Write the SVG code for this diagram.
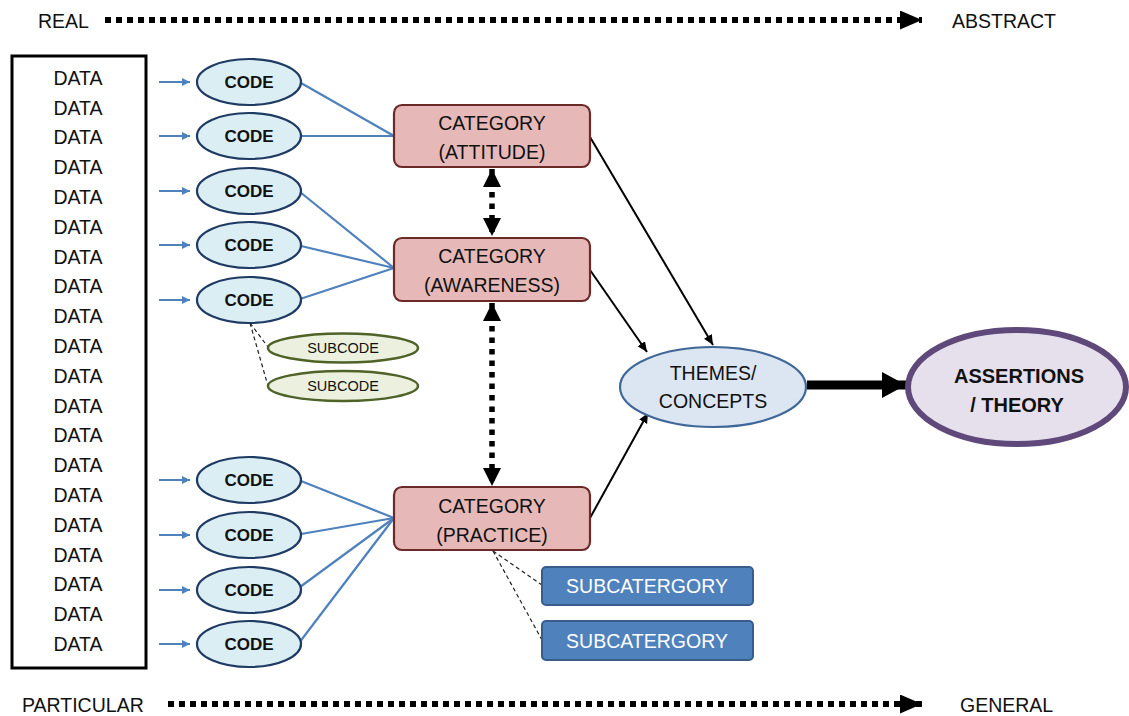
<svg xmlns="http://www.w3.org/2000/svg" width="1129" height="716" viewBox="0 0 1129 716">
<style>
text{font-family:"Liberation Sans",Arial,sans-serif;fill:#111;text-anchor:middle}
.axis{font-size:19.5px;text-anchor:start}
.data{font-size:19.5px}
.code ellipse{fill:#dbeef4;stroke:#1f3b63;stroke-width:2.2}
.code text{font-size:17px;font-weight:bold}
.sub ellipse{fill:#ebf1de;stroke:#4f6228;stroke-width:2.5}
.sub text{font-size:14.5px}
.cat rect{fill:#e6b9b8;stroke:#6b2a28;stroke-width:2.2}
.cat text{font-size:19.5px}
.subcat rect{fill:#4f81bd;stroke:#385d8a;stroke-width:2}
.subcat text{font-size:19.5px;fill:#fff}
.dots{stroke:#000;stroke-width:6;stroke-dasharray:6 5;fill:none}
.vdots{stroke:#000;stroke-width:5.5;stroke-dasharray:5.5 6;fill:none}
.blue{stroke:#4f81bd;stroke-width:2.2;fill:none}
.bluearr{stroke:#4f81bd;stroke-width:2;fill:none;marker-end:url(#ba)}
.blk{stroke:#000;stroke-width:2;fill:none;marker-end:url(#ka)}
.dash{stroke:#222;stroke-width:1.2;stroke-dasharray:4 3;fill:none}
</style>
<defs>
<marker id="ba" markerUnits="userSpaceOnUse" markerWidth="10" markerHeight="10" refX="8" refY="4" orient="auto"><path d="M0,0 L8,4 L0,8 Z" fill="#4f81bd"/></marker>
<marker id="ka" markerUnits="userSpaceOnUse" markerWidth="12" markerHeight="10" refX="10" refY="4.5" orient="auto"><path d="M0,0 L10,4.5 L0,9 Z" fill="#000"/></marker>
<marker id="big" markerUnits="userSpaceOnUse" markerWidth="26" markerHeight="28" refX="24" refY="13" orient="auto"><path d="M0,0 L24,13 L0,26 Z" fill="#000"/></marker>
<marker id="dh" markerUnits="userSpaceOnUse" markerWidth="24" markerHeight="20" refX="18" refY="9" orient="auto-start-reverse"><path d="M0,0 L18,9 L0,18 Z" fill="#000"/></marker>
<marker id="ah" markerUnits="userSpaceOnUse" markerWidth="24" markerHeight="20" refX="22" refY="9.5" orient="auto"><path d="M0,0 L22,9.5 L0,19 Z" fill="#000"/></marker>
</defs>

<g id="axes">
<text class="axis" x="38" y="28">REAL</text>
<text class="axis" x="952" y="28">ABSTRACT</text>
<text class="axis" x="22" y="712">PARTICULAR</text>
<text class="axis" x="960" y="712">GENERAL</text>
</g>

<g id="connectors">
<line class="dots" x1="105" y1="20" x2="922" y2="20" marker-end="url(#ah)"/>
<line class="dots" x1="168" y1="704" x2="922" y2="704" marker-end="url(#ah)"/>
<line class="bluearr" x1="159" y1="82" x2="190" y2="82"/>
<line class="bluearr" x1="159" y1="136" x2="190" y2="136"/>
<line class="bluearr" x1="159" y1="191" x2="190" y2="191"/>
<line class="bluearr" x1="159" y1="245" x2="190" y2="245"/>
<line class="bluearr" x1="159" y1="300" x2="190" y2="300"/>
<line class="bluearr" x1="159" y1="480" x2="190" y2="480"/>
<line class="bluearr" x1="159" y1="535" x2="190" y2="535"/>
<line class="bluearr" x1="159" y1="590" x2="190" y2="590"/>
<line class="bluearr" x1="159" y1="644" x2="190" y2="644"/>
<line class="blue" x1="301" y1="83" x2="394" y2="136"/>
<line class="blue" x1="301" y1="136" x2="394" y2="136"/>
<line class="blue" x1="300" y1="192" x2="394" y2="268"/>
<line class="blue" x1="301" y1="246" x2="394" y2="268"/>
<line class="blue" x1="300" y1="299" x2="394" y2="268"/>
<line class="blue" x1="301" y1="481" x2="394" y2="518"/>
<line class="blue" x1="301" y1="534" x2="394" y2="518"/>
<line class="blue" x1="300" y1="587" x2="394" y2="518"/>
<line class="blue" x1="299" y1="643" x2="394" y2="518"/>
<line class="dash" x1="250" y1="323" x2="268" y2="347"/>
<line class="dash" x1="250" y1="323" x2="268" y2="386"/>
<line class="dash" x1="493" y1="551" x2="542" y2="585"/>
<line class="dash" x1="493" y1="551" x2="542" y2="640"/>
<line class="vdots" x1="492" y1="169" x2="492" y2="236" marker-start="url(#dh)" marker-end="url(#dh)"/>
<line class="vdots" x1="492" y1="303" x2="492" y2="486" marker-start="url(#dh)" marker-end="url(#dh)"/>
<line class="blk" x1="590" y1="137" x2="713" y2="345"/>
<line class="blk" x1="590" y1="270" x2="647" y2="352"/>
<line class="blk" x1="590" y1="518" x2="648" y2="413"/>
<line x1="807" y1="385" x2="906" y2="385" stroke="#000" stroke-width="9" marker-end="url(#big)"/>
</g>

<g id="data">
<rect x="12" y="56" width="134" height="612" fill="#fff" stroke="#000" stroke-width="3"/>
<text class="data" x="78" y="85">DATA</text>
<text class="data" x="78" y="115">DATA</text>
<text class="data" x="78" y="144">DATA</text>
<text class="data" x="78" y="174">DATA</text>
<text class="data" x="78" y="204">DATA</text>
<text class="data" x="78" y="234">DATA</text>
<text class="data" x="78" y="264">DATA</text>
<text class="data" x="78" y="293">DATA</text>
<text class="data" x="78" y="323">DATA</text>
<text class="data" x="78" y="353">DATA</text>
<text class="data" x="78" y="383">DATA</text>
<text class="data" x="78" y="413">DATA</text>
<text class="data" x="78" y="442">DATA</text>
<text class="data" x="78" y="472">DATA</text>
<text class="data" x="78" y="502">DATA</text>
<text class="data" x="78" y="532">DATA</text>
<text class="data" x="78" y="562">DATA</text>
<text class="data" x="78" y="591">DATA</text>
<text class="data" x="78" y="621">DATA</text>
<text class="data" x="78" y="651">DATA</text>
</g>

<g id="code1" class="code"><ellipse cx="249" cy="82" rx="52" ry="23"/><text x="249" y="88">CODE</text></g>
<g id="code2" class="code"><ellipse cx="249" cy="136" rx="52" ry="23"/><text x="249" y="142">CODE</text></g>
<g id="code3" class="code"><ellipse cx="249" cy="191" rx="52" ry="23"/><text x="249" y="197">CODE</text></g>
<g id="code4" class="code"><ellipse cx="249" cy="245" rx="52" ry="23"/><text x="249" y="251">CODE</text></g>
<g id="code5" class="code"><ellipse cx="249" cy="300" rx="52" ry="23"/><text x="249" y="306">CODE</text></g>
<g id="code6" class="code"><ellipse cx="249" cy="480" rx="52" ry="23"/><text x="249" y="486">CODE</text></g>
<g id="code7" class="code"><ellipse cx="249" cy="535" rx="52" ry="23"/><text x="249" y="541">CODE</text></g>
<g id="code8" class="code"><ellipse cx="249" cy="590" rx="52" ry="23"/><text x="249" y="596">CODE</text></g>
<g id="code9" class="code"><ellipse cx="249" cy="644" rx="52" ry="23"/><text x="249" y="650">CODE</text></g>

<g id="subcode1" class="sub"><ellipse cx="343" cy="348" rx="75" ry="14.5"/><text x="343" y="353">SUBCODE</text></g>
<g id="subcode2" class="sub"><ellipse cx="343" cy="386" rx="75" ry="15"/><text x="343" y="391">SUBCODE</text></g>

<g id="cat-attitude" class="cat"><rect x="394" y="105" width="196" height="62" rx="8"/><text x="492" y="130">CATEGORY</text><text x="492" y="159">(ATTITUDE)</text></g>
<g id="cat-awareness" class="cat"><rect x="394" y="238" width="196" height="63" rx="8"/><text x="492" y="263">CATEGORY</text><text x="492" y="292">(AWARENESS)</text></g>
<g id="cat-practice" class="cat"><rect x="394" y="487" width="196" height="63" rx="8"/><text x="492" y="513">CATEGORY</text><text x="492" y="542">(PRACTICE)</text></g>

<g id="subcat1" class="subcat"><rect x="542" y="567" width="211" height="38" rx="4"/><text x="647" y="593">SUBCATERGORY</text></g>
<g id="subcat2" class="subcat"><rect x="542" y="621" width="211" height="39" rx="4"/><text x="647" y="648">SUBCATERGORY</text></g>

<g id="themes"><ellipse cx="713" cy="387" rx="93" ry="40" fill="#dce6f2" stroke="#3f6797" stroke-width="2.2"/><text x="713" y="380" font-size="19.5">THEMES/</text><text x="713" y="408" font-size="19.5">CONCEPTS</text></g>

<g id="assertions"><ellipse cx="1017" cy="387" rx="109" ry="57" fill="#e5e0ec" stroke="#5f497a" stroke-width="6"/><text x="1019" y="383" font-size="20" font-weight="bold">ASSERTIONS</text><text x="1017" y="412" font-size="20" font-weight="bold">/ THEORY</text></g>
</svg>
